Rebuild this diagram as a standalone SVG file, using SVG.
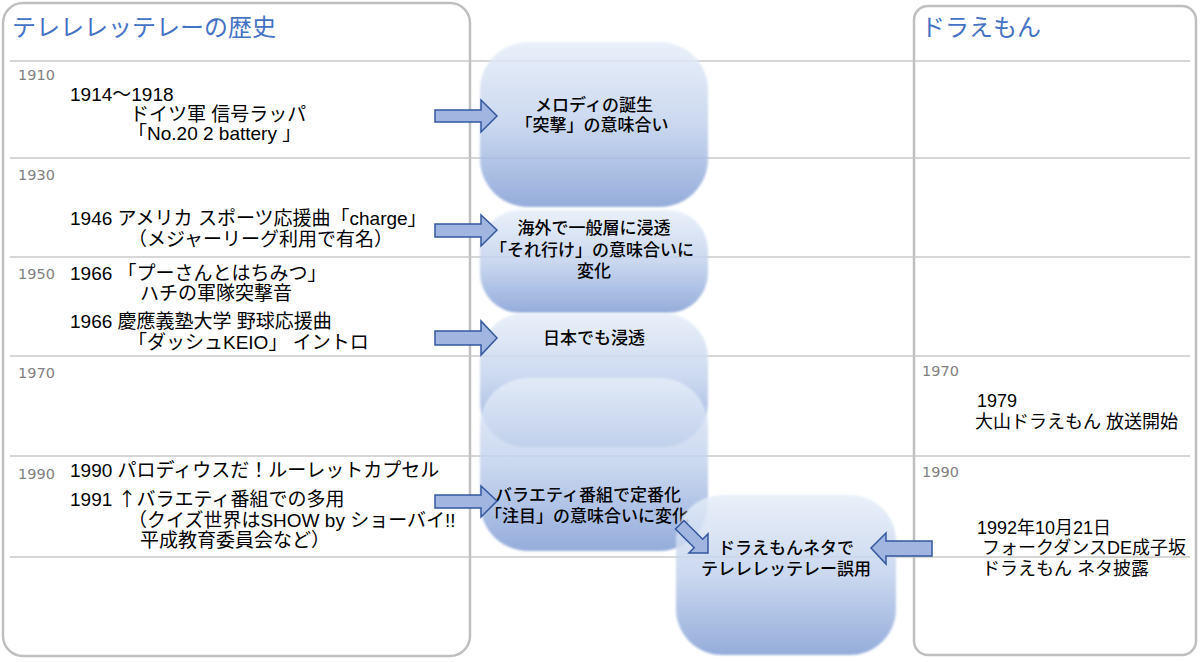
<svg xmlns="http://www.w3.org/2000/svg" width="1200" height="662" viewBox="0 0 1200 662">
<style>
.panel{fill:#fff;stroke:#bfbfbf;stroke-width:2.5}
.grid{stroke:#c9c9c9;stroke-width:1.5}
.title{font-family:"Liberation Sans","Noto Sans CJK JP",sans-serif;font-size:24px;fill:#4472c4}
.yr{font-family:"DejaVu Sans","Noto Sans CJK JP",sans-serif;font-size:14.5px;fill:#7f7f7f}
.t{font-family:"Liberation Sans","Noto Sans CJK JP",sans-serif;font-size:19px;fill:#000}
.tr{font-family:"Liberation Sans","Noto Sans CJK JP",sans-serif;font-size:18px;fill:#000}
.nt{font-family:"Liberation Sans","Noto Sans CJK JP",sans-serif;font-size:17px;fill:#000;font-weight:500;text-anchor:middle}
.node{fill:url(#ng);opacity:0.85;filter:url(#soft)}
.arr{fill:#a0b5e0;stroke:#33589e;stroke-width:1.5;stroke-linejoin:miter}
.sym{font-family:"Noto Sans CJK JP","DejaVu Sans",sans-serif}
</style>
<defs>
<linearGradient id="ng" x1="0" y1="0" x2="0" y2="1">
<stop offset="0" stop-color="#e6eef9"/>
<stop offset="0.5" stop-color="#c2d2ed"/>
<stop offset="1" stop-color="#839fd6"/>
</linearGradient>
<filter id="soft" x="-5%" y="-5%" width="110%" height="110%">
<feGaussianBlur stdDeviation="1.2"/>
</filter>
</defs>

<g id="panels">
<rect class="panel" x="3" y="3" width="467" height="653" rx="20"/>
<rect class="panel" x="914" y="6" width="282" height="649" rx="14"/>
</g>

<g id="grid">
<line class="grid" x1="10" y1="61" x2="1190" y2="61"/>
<line class="grid" x1="10" y1="158" x2="1190" y2="158"/>
<line class="grid" x1="10" y1="257" x2="1190" y2="257"/>
<line class="grid" x1="10" y1="356" x2="1190" y2="356"/>
<line class="grid" x1="10" y1="456" x2="1190" y2="456"/>
<line class="grid" x1="10" y1="557" x2="1190" y2="557"/>
</g>

<g id="left-column">
<text class="title" x="12" y="36">テレレレッテレーの歴史</text>
<text class="yr" x="18" y="80">1910</text>
<text class="yr" x="18" y="180">1930</text>
<text class="yr" x="18" y="279">1950</text>
<text class="yr" x="18" y="378">1970</text>
<text class="yr" x="18" y="479">1990</text>
<text class="t" x="70" y="101">1914～1918</text>
<text class="t" x="130" y="121">ドイツ軍 信号ラッパ</text>
<text class="t" x="128" y="140">「No.20 2 battery 」</text>
<text class="t" x="70" y="225">1946 アメリカ スポーツ応援曲「charge」</text>
<text class="t" x="128" y="246">（メジャーリーグ利用で有名）</text>
<text class="t" x="70" y="280">1966 「プーさんとはちみつ」</text>
<text class="t" x="140" y="300">ハチの軍隊突撃音</text>
<text class="t" x="70" y="328">1966 慶應義塾大学 野球応援曲</text>
<text class="t" x="128" y="349">「ダッシュKEIO」 イントロ</text>
<text class="t" x="70" y="477">1990 パロディウスだ！ルーレットカプセル</text>
<text class="t" x="70" y="506">1991 <tspan class="sym">↑</tspan>バラエティ番組での多用</text>
<text class="t" x="128" y="527">（クイズ世界はSHOW by ショーバイ!!</text>
<text class="t" x="140" y="547">平成教育委員会など）</text>
</g>

<g id="right-column">
<text class="title" x="921" y="36">ドラえもん</text>
<text class="yr" x="922" y="376">1970</text>
<text class="yr" x="922" y="477">1990</text>
<text class="tr" x="977" y="407">1979</text>
<text class="tr" x="975" y="428">大山ドラえもん 放送開始</text>
<text class="tr" x="977" y="534">1992年10月21日</text>
<text class="tr" x="982" y="554">フォークダンスDE成子坂</text>
<text class="tr" x="982" y="575">ドラえもん ネタ披露</text>
</g>

<g id="node1">
<rect class="node" x="480" y="42" width="228" height="165" rx="48"/>
<text class="nt" x="594" y="111">メロディの誕生</text>
<text class="nt" x="592" y="131">「突撃」の意味合い</text>
</g>
<g id="node2">
<rect class="node" x="480" y="210" width="228" height="103" rx="40"/>
<text class="nt" x="594" y="234">海外で一般層に浸透</text>
<text class="nt" x="592" y="256">「それ行け」の意味合いに</text>
<text class="nt" x="594" y="277">変化</text>
</g>
<g id="node3">
<rect class="node" x="480" y="313" width="228" height="134" rx="45"/>
<text class="nt" x="594" y="344">日本でも浸透</text>
</g>
<g id="node4">
<rect class="node" x="480" y="378" width="228" height="173" rx="48"/>
<text class="nt" x="588" y="501">バラエティ番組で定番化</text>
<text class="nt" x="587" y="522">「注目」の意味合いに変化</text>
</g>
<g id="node5">
<rect class="node" x="676" y="495" width="220" height="160" rx="46"/>
<text class="nt" x="786" y="554">ドラえもんネタで</text>
<text class="nt" x="786" y="575">テレレレッテレー誤用</text>
</g>

<g id="connectors">
<polygon class="arr" points="435,110 481,110 481,100 497,116 481,132 481,122 435,122"/>
<polygon class="arr" points="435,224 481,224 481,215 497,230 481,246 481,237 435,237"/>
<polygon class="arr" points="435,331 481,331 481,321 497,338 481,355 481,345 435,345"/>
<polygon class="arr" points="435,495 481,495 481,486 497,501 481,517 481,508 435,508"/>
<polygon class="arr" transform="translate(708,553) rotate(45)" points="-40,-6 -13.5,-6 -13.5,-13.5 0,0 -13.5,13.5 -13.5,6 -40,6"/>
<polygon class="arr" points="932,541 886,541 886,533 871,548 886,564 886,556 932,556"/>
</g>
</svg>
